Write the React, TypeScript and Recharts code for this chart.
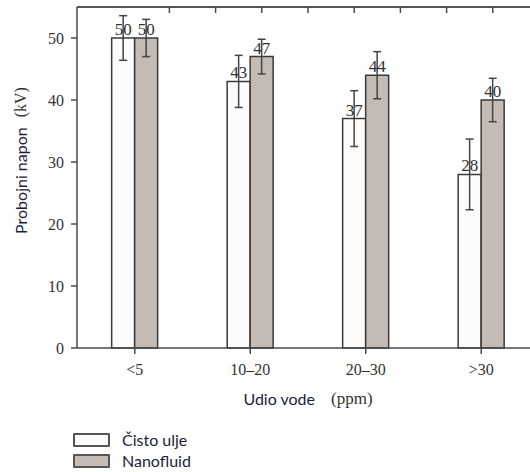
import React from 'react';
import { BarChart, Bar, XAxis, YAxis, ErrorBar, LabelList, Legend, ReferenceLine } from 'recharts';

const categories = ['<5', '10–20', '20–30', '>30'];
const cleanOil = [50, 43, 37, 28];
const nanofluid = [50, 47, 44, 40];
const cleanOilErr = [3.6, 4.2, 4.5, 5.7];
const nanofluidErr = [3.0, 2.8, 3.8, 3.5];
const seriesNames = ['Čisto ulje', 'Nanofluid'];
const seriesFills = ['#fdfcfa', '#c4bbb5'];
const yTicks = [0, 10, 20, 30, 40, 50];
const yMax = 55;
const yMinorTicks = [5, 15, 25, 35, 45];
const topTicks = [2, 3, 4, 5, 6, 7, 8, 9];

const data = categories.map((c, i) => ({
  cat: c,
  pos: i * 2 + 1,
  clean: cleanOil[i],
  nano: nanofluid[i],
  cleanErr: cleanOilErr[i],
  nanoErr: nanofluidErr[i],
}));

const SERIF = '"Liberation Serif", "Times New Roman", serif';
const SANS = 'Lato, "Open Sans", sans-serif';
const AXIS = '#4a4a4a';

const NoTick = () => <g />;

const YLabel = (props: any) => {
  const vb = props.viewBox || {};
  const cx = vb.x + 20;
  const cy = vb.y + vb.height / 2 - 17;
  return (
    <text
      x={cx}
      y={cy}
      transform={`rotate(-90, ${cx}, ${cy})`}
      textAnchor="middle"
      dominantBaseline="central"
    >
      <tspan fontFamily={SANS} fontSize={16} fill="#221d3d">Probojni napon</tspan>
      <tspan dx={10} fontFamily={SERIF} fontSize={16} fill="#333">(kV)</tspan>
    </text>
  );
};

const XLabel = (props: any) => {
  const vb = props.viewBox || {};
  const cx = vb.x + vb.width / 2;
  const cy = vb.y + 50;
  return (
    <text x={cx} y={cy} textAnchor="middle" dominantBaseline="central">
      <tspan fontFamily={SANS} fontSize={16} fill="#221d3d">Udio vode</tspan>
      <tspan dx={16} fontFamily={SERIF} fontSize={17} fill="#333">(ppm)</tspan>
    </text>
  );
};

const renderLegend = (props: any) => {
  const payload = [...(props.payload || [])]
    .filter((e: any) => seriesNames.indexOf(e.value) >= 0)
    .sort((a: any, b: any) => seriesNames.indexOf(a.value) - seriesNames.indexOf(b.value));
  return (
    <div style={{ display: 'flex', flexDirection: 'column', gap: 7 }}>
      {payload.map((entry: any, i: number) => (
        <div key={i} style={{ display: 'flex', alignItems: 'center', height: 14 }}>
          <div
            style={{
              width: 33,
              height: 10,
              border: '2px solid #555',
              borderRadius: 1,
              background: seriesFills[seriesNames.indexOf(entry.value)],
            }}
          />
          <span
            style={{
              marginLeft: 12,
              fontFamily: SANS,
              fontSize: 16,
              color: '#221d3d',
              lineHeight: '14px',
            }}
          >
            {entry.value}
          </span>
        </div>
      ))}
    </div>
  );
};

export default function App() {
  return (
    <div
      style={{
        position: 'absolute',
        left: 0,
        top: 0,
        width: 530,
        height: 472,
        overflow: 'hidden',
        background: '#fff',
      }}
    >
      <BarChart
        width={545}
        height={472}
        data={data}
        margin={{ top: 7, right: 6, left: 0, bottom: 64 }}
        barCategoryGap="30%"
        barGap={0}
      >
        <XAxis
          dataKey="cat"
          height={60}
          tickSize={6}
          tickMargin={10}
          stroke={AXIS}
          strokeWidth={1.5}
          tick={{ fontFamily: SERIF, fontSize: 16, fill: '#333' }}
          label={{ content: XLabel }}
        />
        <XAxis
          xAxisId="top"
          orientation="top"
          type="number"
          dataKey="pos"
          domain={[0, 10]}
          ticks={topTicks}
          mirror
          height={1}
          tickSize={6}
          tick={NoTick}
          stroke={AXIS}
          strokeWidth={1.5}
        />
        <YAxis
          width={77}
          domain={[0, yMax]}
          ticks={yTicks}
          tickSize={6}
          tickMargin={7}
          stroke={AXIS}
          strokeWidth={1.5}
          tick={{ fontFamily: SERIF, fontSize: 16, fill: '#333' }}
          label={{ content: YLabel }}
        />
        <YAxis
          yAxisId="minor"
          domain={[0, yMax]}
          ticks={yMinorTicks}
          mirror
          width={1}
          tickSize={3}
          tick={NoTick}
          axisLine={false}
          stroke={AXIS}
          strokeWidth={1.5}
        />
        <ReferenceLine y={yMax} stroke={AXIS} strokeWidth={1.5} />
        <Legend
          layout="horizontal"
          verticalAlign="middle"
          align="center"
          content={renderLegend}
          wrapperStyle={{ left: 73, top: 433, width: 200, height: 40 }}
        />
        <Bar
          dataKey="clean"
          name={seriesNames[0]}
          fill={seriesFills[0]}
          stroke="#3a3a3a"
          strokeWidth={1.5}
          isAnimationActive={false}
        >
          <ErrorBar dataKey="cleanErr" width={4} stroke="#444" strokeWidth={1.5} direction="y" />
          <LabelList
            dataKey="clean"
            position="top"
            offset={3}
            fontFamily={SERIF}
            fontSize={17}
            fill="#333"
          />
        </Bar>
        <Bar
          dataKey="nano"
          name={seriesNames[1]}
          fill={seriesFills[1]}
          stroke="#3a3a3a"
          strokeWidth={1.5}
          isAnimationActive={false}
        >
          <ErrorBar dataKey="nanoErr" width={4} stroke="#444" strokeWidth={1.5} direction="y" />
          <LabelList
            dataKey="nano"
            position="top"
            offset={3}
            fontFamily={SERIF}
            fontSize={17}
            fill="#333"
          />
        </Bar>
      </BarChart>
    </div>
  );
}
